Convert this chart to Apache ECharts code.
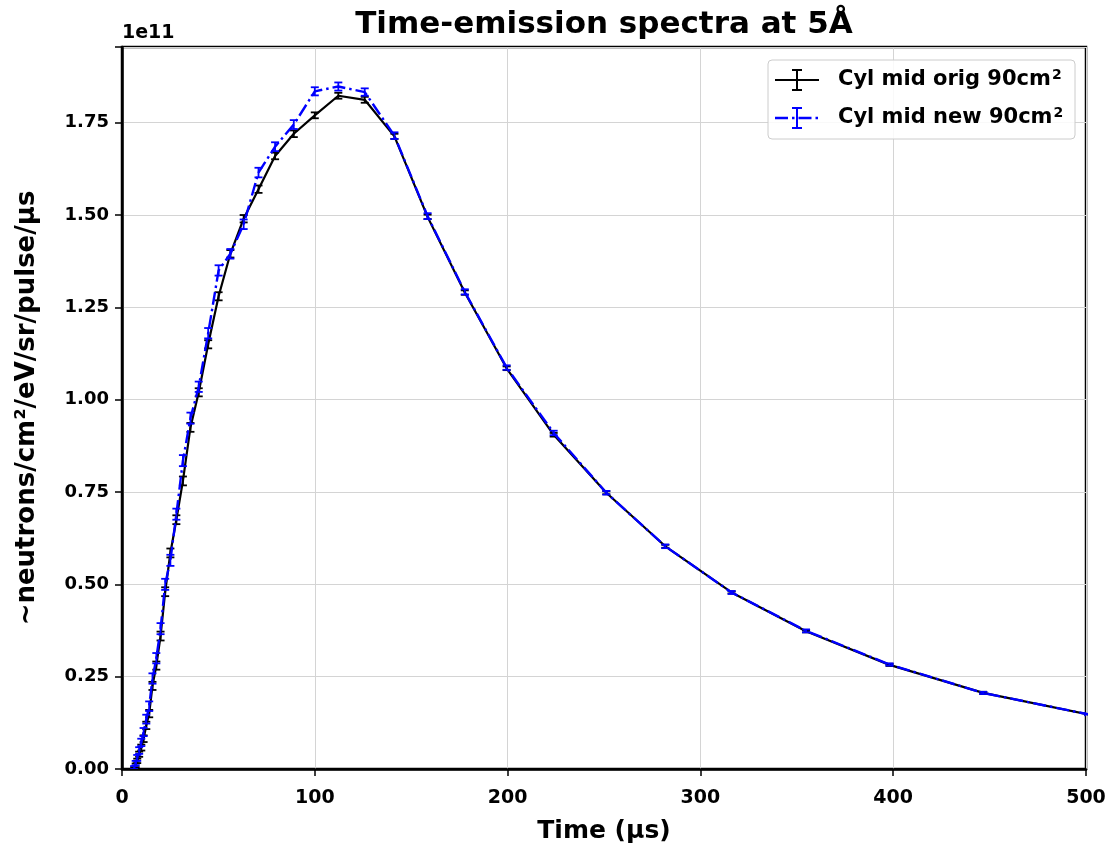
<!DOCTYPE html>
<html>
<head>
<meta charset="utf-8">
<script src="https://cdn.jsdelivr.net/npm/echarts@6/dist/echarts.min.js"></script>
<style>
html,body{margin:0;padding:0;background:#fff;}
#c{width:1114px;height:848px;}
</style>
</head>
<body>
<div id="c"></div>
<script>
// Time bins (µs)
const times = [6.3, 7.1, 7.9, 8.9, 10.0, 11.2, 12.6, 14.1, 15.8, 17.8, 20.0, 22.4, 25.1, 28.2, 31.6, 35.5, 39.8, 44.7, 50.1, 56.2, 63.1, 70.8, 79.4, 89.1, 100.0, 112.2, 125.9, 141.3, 158.5, 177.8, 199.5, 223.9, 251.2, 281.8, 316.2, 354.8, 398.1, 446.7, 501.2];
// Values in units of 1e11
const origVals = [0.002, 0.010, 0.022, 0.040, 0.058, 0.082, 0.118, 0.150, 0.225, 0.280, 0.360, 0.480, 0.585, 0.675, 0.780, 0.925, 1.020, 1.150, 1.280, 1.395, 1.490, 1.570, 1.660, 1.720, 1.770, 1.823, 1.812, 1.713, 1.495, 1.290, 1.085, 0.905, 0.748, 0.603, 0.478, 0.373, 0.282, 0.206, 0.148];
const origErr = [0.003, 0.005, 0.006, 0.007, 0.008, 0.009, 0.010, 0.010, 0.011, 0.011, 0.012, 0.012, 0.012, 0.012, 0.012, 0.012, 0.011, 0.011, 0.011, 0.010, 0.010, 0.010, 0.009, 0.009, 0.008, 0.008, 0.008, 0.007, 0.006, 0.006, 0.005, 0.005, 0.004, 0.004, 0.003, 0.003, 0.003, 0.003, 0.002];
const newVals = [0.004, 0.016, 0.030, 0.050, 0.072, 0.100, 0.135, 0.170, 0.245, 0.300, 0.380, 0.500, 0.565, 0.690, 0.835, 0.950, 1.035, 1.180, 1.350, 1.395, 1.475, 1.615, 1.685, 1.745, 1.835, 1.848, 1.833, 1.715, 1.497, 1.292, 1.087, 0.910, 0.748, 0.603, 0.478, 0.374, 0.283, 0.206, 0.148];
const newErr = [0.004, 0.006, 0.008, 0.009, 0.010, 0.011, 0.012, 0.013, 0.014, 0.014, 0.015, 0.015, 0.015, 0.015, 0.015, 0.015, 0.014, 0.014, 0.014, 0.013, 0.013, 0.013, 0.012, 0.012, 0.011, 0.011, 0.010, 0.009, 0.008, 0.007, 0.006, 0.006, 0.005, 0.005, 0.004, 0.004, 0.003, 0.003, 0.003];
const xTicks = [0, 100, 200, 300, 400, 500];
const yTicks = [0, 0.25, 0.5, 0.75, 1.0, 1.25, 1.5, 1.75];
const seriesNames = ['Cyl mid orig 90cm', 'Cyl mid new 90cm'];

const FONT = 'DejaVu Sans';
const chart = echarts.init(document.getElementById('c'), null, {renderer: 'canvas'});

function errSeries(vals, errs, color, z) {
  return {
    type: 'custom',
    coordinateSystem: 'cartesian2d',
    clip: true,
    z: z,
    silent: true,
    data: times.map((t, i) => [t, vals[i], errs[i]]),
    encode: {x: 0, y: 1},
    renderItem: function (params, api) {
      const x = api.value(0), y = api.value(1), e = api.value(2);
      const p1 = api.coord([x, y + e]);
      const p2 = api.coord([x, y - e]);
      const w = 4;
      const st = {stroke: color, lineWidth: 1.8};
      return {
        type: 'group',
        children: [
          {type: 'line', shape: {x1: p1[0], y1: p1[1], x2: p2[0], y2: p2[1]}, style: st},
          {type: 'line', shape: {x1: p1[0] - w, y1: p1[1], x2: p1[0] + w, y2: p1[1]}, style: st},
          {type: 'line', shape: {x1: p2[0] - w, y1: p2[1], x2: p2[0] + w, y2: p2[1]}, style: st}
        ]
      };
    }
  };
}

const gridL = 122, gridR = 28, gridT = 47, gridB = 79;

function legendGlyph(x, y, color, dashed) {
  const items = [];
  const zz = 30;
  if (dashed) {
    items.push({type: 'line', z: zz, shape: {x1: x, y1: y, x2: x + 44, y2: y}, style: {stroke: color, lineWidth: 2.4, lineDash: [13, 4, 2.5, 4]}});
  } else {
    items.push({type: 'line', z: zz, shape: {x1: x, y1: y, x2: x + 44, y2: y}, style: {stroke: color, lineWidth: 2.2}});
  }
  const cx = x + 22;
  items.push({type: 'line', z: zz, shape: {x1: cx, y1: y - 10, x2: cx, y2: y + 10}, style: {stroke: color, lineWidth: 2}});
  items.push({type: 'line', z: zz, shape: {x1: cx - 5, y1: y - 10, x2: cx + 5, y2: y - 10}, style: {stroke: color, lineWidth: 2}});
  items.push({type: 'line', z: zz, shape: {x1: cx - 5, y1: y + 10, x2: cx + 5, y2: y + 10}, style: {stroke: color, lineWidth: 2}});
  return items;
}

const legendRich = {
  a: {font: 'bold 21px "DejaVu Sans"', fill: '#000'},
  s: {font: 'bold 14px "DejaVu Sans"', fill: '#000', verticalAlign: 'top', padding: [0, 0, 10, 1]}
};

const option = {
  backgroundColor: '#ffffff',
  animation: false,
  grid: {left: gridL, right: gridR, top: gridT, bottom: gridB, show: true, borderColor: '#000', borderWidth: 2.5, backgroundColor: 'transparent'},
  xAxis: {
    type: 'value', min: 0, max: 500, interval: 100,
    axisLine: {show: true, onZero: false, lineStyle: {color: '#000', width: 2.5}},
    axisTick: {show: true, length: 7, lineStyle: {color: '#000', width: 1.5}},
    axisLabel: {color: '#000', fontFamily: FONT, fontWeight: 'bold', fontSize: 19, margin: 20,
      formatter: v => xTicks.indexOf(v) >= 0 ? String(v) : ''},
    splitLine: {show: true, lineStyle: {color: '#d4d4d4', width: 1}}
  },
  yAxis: {
    type: 'value', min: 0, max: 1.955, interval: 0.25,
    axisLine: {show: true, onZero: false, lineStyle: {color: '#000', width: 2.5}},
    axisTick: {show: true, length: 7, lineStyle: {color: '#000', width: 1.5}},
    axisLabel: {color: '#000', fontFamily: FONT, fontWeight: 'bold', fontSize: 18, margin: 13,
      formatter: v => yTicks.some(t => Math.abs(t - v) < 1e-9) ? v.toFixed(2) : ''},
    splitLine: {show: true, lineStyle: {color: '#d4d4d4', width: 1}}
  },
  series: [
    {
      name: seriesNames[0], type: 'line', symbol: 'none', z: 3,
      data: times.map((t, i) => [t, origVals[i]]),
      lineStyle: {color: '#000', width: 2.2}, clip: true
    },
    errSeries(origVals, origErr, '#000', 4),
    {
      name: seriesNames[1], type: 'line', symbol: 'none', z: 5,
      data: times.map((t, i) => [t, newVals[i]]),
      lineStyle: {color: '#0000ff', width: 2.4, type: [13, 4, 2.5, 4]}, clip: true
    },
    errSeries(newVals, newErr, '#0000ff', 6)
  ],
  graphic: [
    {type: 'text', position: [604, 25], style: {text: 'Time-emission spectra at 5Å', font: 'bold 31px "DejaVu Sans"', fill: '#000', align: 'center', verticalAlign: 'middle'}, z: 10},
    {type: 'text', position: [122, 33], style: {text: '1e11', font: 'bold 19px "DejaVu Sans"', fill: '#000', align: 'left', verticalAlign: 'middle'}, z: 10},
    {type: 'text', position: [604, 831], style: {text: 'Time (µs)', font: 'bold 25px "DejaVu Sans"', fill: '#000', align: 'center', verticalAlign: 'middle'}, z: 10},
    {type: 'text', position: [27, 408], rotation: Math.PI / 2, style: {text: '~neutrons/cm²/eV/sr/pulse/µs', font: 'bold 26px "DejaVu Sans"', fill: '#000', align: 'center', verticalAlign: 'middle'}, z: 10},
    {type: 'rect', z: 20, shape: {x: 768, y: 60, width: 307, height: 79, r: 4}, style: {fill: 'rgba(255,255,255,0.85)', stroke: '#cccccc', lineWidth: 1}},
    ...legendGlyph(775, 80, '#000', false),
    ...legendGlyph(775, 118, '#0000ff', true),
    {type: 'text', z: 31, position: [838, 80], style: {text: '{a|' + seriesNames[0] + '}{s|2}', rich: legendRich, align: 'left', verticalAlign: 'middle'}},
    {type: 'text', z: 31, position: [838, 118], style: {text: '{a|' + seriesNames[1] + '}{s|2}', rich: legendRich, align: 'left', verticalAlign: 'middle'}}
  ]
};
chart.setOption(option);
</script>
</body>
</html>
